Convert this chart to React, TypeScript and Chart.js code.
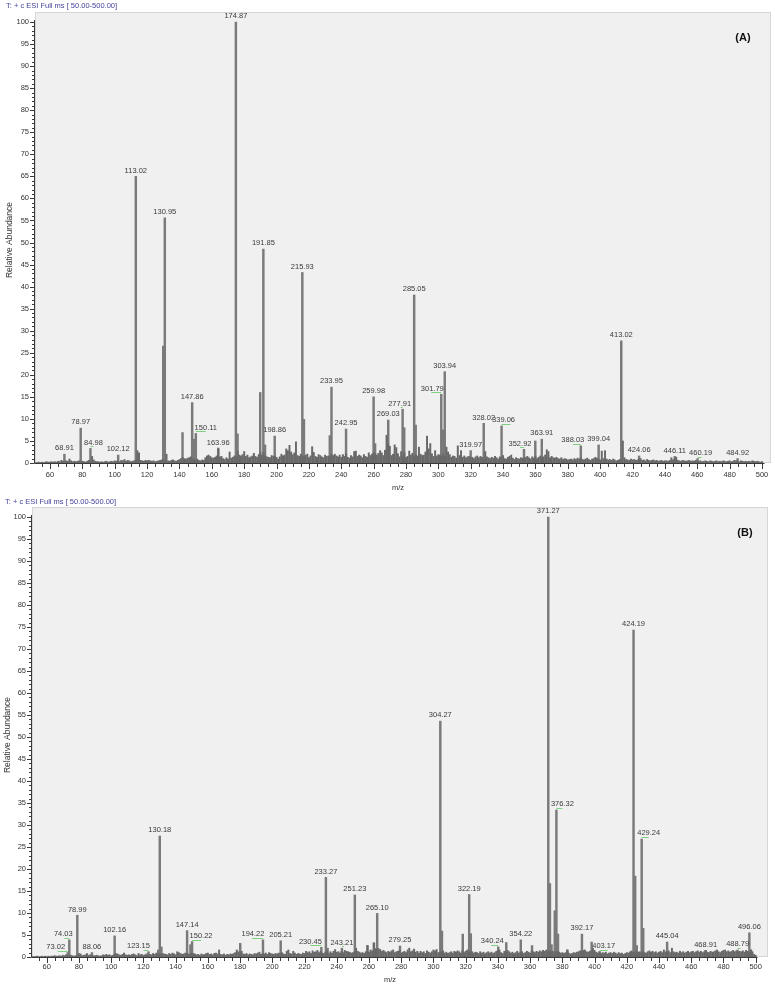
import React, { useEffect, useRef } from "react";
import { Chart, registerables } from "chart.js";

Chart.register(...registerables);

// ---------- DATA ----------
const noiseStartMz = 51; // noise bars at integer m/z 51..500

const aNoise = [
  0.1,0.1,0.2,0.1,0.2,0.1,0.2,0.3,0.2,0.2,
  0.3,0.2,0.3,0.2,0.4,0.3,0.6,0.4,0.3,0.5,
  0.4,0.9,0.5,0.3,0.4,0.3,0.4,0.5,0.3,0.4,
  0.3,0.2,0.4,0.6,0.5,1.5,0.7,0.4,0.3,0.3,
  0.2,0.3,0.2,0.3,0.4,0.2,0.3,0.4,0.3,0.5,
  0.4,0.5,0.3,0.6,0.5,0.8,0.4,0.6,0.5,0.3,
  0.4,0.5,0.6,2.8,2.3,0.6,0.5,0.4,0.6,0.5,
  0.6,0.5,0.4,0.5,0.3,0.4,0.5,0.6,0.7,0.8,
  0.6,2.0,0.5,0.4,0.6,0.7,0.5,0.4,0.6,0.8,
  1.0,1.2,1.0,0.9,1.1,1.2,1.4,1.0,0.8,0.7,
  0.9,0.6,0.5,0.7,0.6,1.2,1.6,1.8,1.5,1.2,
  1.1,1.3,1.6,3.4,1.4,1.5,1.0,0.8,1.2,0.9,
  2.5,1.1,1.3,1.6,1.4,2.7,1.8,1.6,1.9,2.6,
  1.5,1.8,1.2,1.4,1.6,2.2,1.5,1.3,1.9,2.5,
  1.8,2.4,1.6,1.4,1.3,1.2,1.7,1.5,1.6,1.3,
  0.9,1.4,2.0,1.6,1.8,3.2,2.8,4.0,2.5,1.9,
  2.3,4.8,1.7,1.5,2.0,1.6,1.4,1.8,2.0,1.2,
  1.6,3.7,2.4,1.5,1.3,1.9,1.7,1.4,1.2,1.8,
  1.5,1.6,1.4,1.9,1.7,2.0,1.6,1.4,1.8,1.3,
  1.9,1.5,2.1,1.3,1.1,1.7,1.4,2.6,2.7,1.5,
  1.8,1.6,1.2,1.9,1.5,1.3,2.3,1.7,2.0,2.3,
  2.1,1.8,2.2,2.8,2.3,1.7,2.9,6.3,4.2,3.8,
  1.7,2.0,4.1,3.5,2.1,1.4,2.6,1.6,2.4,1.3,
  1.5,2.7,1.8,2.2,1.4,1.9,1.6,3.6,2.0,1.7,
  1.8,2.5,6.1,3.2,4.4,2.1,1.5,2.8,1.6,1.9,
  1.8,1.4,2.1,1.5,3.6,2.5,1.9,1.3,1.6,1.5,
  1.1,3.9,1.7,2.8,1.3,1.6,1.2,1.4,1.5,1.1,
  1.3,1.0,1.4,1.6,1.2,1.5,1.3,1.1,2.6,1.4,
  1.2,1.0,1.3,1.1,1.5,1.2,0.9,1.4,1.3,1.7,
  1.0,0.9,1.3,1.5,1.8,1.1,0.8,1.2,1.0,0.9,
  1.2,1.1,1.0,1.3,1.5,1.2,0.9,1.4,1.1,1.6,
  1.0,1.3,1.6,1.2,1.4,1.8,3.0,2.6,1.2,1.5,
  1.2,1.1,1.3,1.0,0.9,1.2,0.8,1.0,0.9,0.7,
  0.8,0.9,0.7,1.0,0.8,1.1,0.9,1.2,0.8,0.7,
  0.9,1.1,0.8,0.6,0.9,1.0,1.3,1.1,0.8,0.7,
  2.7,1.0,2.8,0.9,0.7,0.8,0.6,0.9,0.7,0.5,
  0.6,0.8,0.7,5.0,1.2,0.8,0.7,0.6,0.9,0.7,
  0.8,0.6,0.7,0.9,1.0,0.6,0.7,0.5,0.8,0.6,
  0.5,0.6,0.7,0.5,0.6,0.4,0.5,0.6,0.4,0.5,
  0.5,0.4,0.6,1.2,0.7,0.9,1.3,0.6,0.5,0.4,
  0.6,0.5,0.4,0.5,0.6,0.4,0.5,0.4,0.6,0.5,
  0.4,0.5,0.3,0.4,0.5,0.4,0.3,0.5,0.4,0.3,
  0.4,0.5,0.3,0.4,0.3,0.5,0.4,0.3,0.4,0.5,
  0.3,0.4,0.6,0.5,0.4,0.3,0.5,0.4,0.3,0.4,
  0.3,0.4,0.3,0.5,0.4,0.3,0.4,0.3,0.2,0.3,
];

const aPeakMz = [68.91, 78.97, 84.98, 102.12, 113.02, 129.97, 130.95, 141.9, 147.86, 148.9, 150.11, 163.96, 174.87, 175.9, 189.9, 191.85, 192.9, 198.86, 215.93, 216.93, 232.9, 233.95, 242.95, 259.98, 260.9, 269.03, 277.91, 278.9, 285.05, 286.0, 301.79, 302.9, 303.94, 319.97, 328.02, 339.06, 352.92, 359.9, 363.91, 388.03, 399.04, 413.02, 424.06, 446.11, 460.19, 484.92];
const aPeakAb = [2.0, 7.9, 3.3, 1.8, 65.0, 26.5, 55.6, 6.9, 13.7, 5.4, 6.7, 3.2, 100, 6.6, 16.0, 48.5, 4.1, 6.1, 43.2, 9.9, 6.2, 17.2, 7.7, 15.0, 4.4, 9.75, 12.2, 8.0, 38.1, 8.6, 15.6, 7.5, 20.7, 2.8, 9.0, 8.4, 3.1, 5.0, 5.4, 3.9, 4.1, 27.7, 1.6, 1.5, 1.0, 1.0];
const aLabelMz = [68.91, 78.97, 84.98, 102.12, 113.02, 130.95, 147.86, 150.11, 163.96, 174.87, 191.85, 198.86, 215.93, 233.95, 242.95, 259.98, 269.03, 277.91, 285.05, 301.79, 303.94, 319.97, 328.02, 339.06, 352.92, 363.91, 388.03, 399.04, 413.02, 424.06, 446.11, 460.19, 484.92];

const bNoise = [
  0.1,0.1,0.1,0.2,0.1,0.1,0.2,0.1,0.2,0.1,
  0.2,0.1,0.2,0.2,0.3,0.2,0.2,0.3,0.2,0.4,
  0.3,0.5,0.4,0.3,0.4,0.3,0.2,0.3,0.4,0.8,
  0.7,0.3,0.4,0.5,0.8,0.4,0.5,0.4,0.3,0.3,
  0.4,0.3,0.2,0.3,0.5,0.4,0.6,0.4,0.5,0.3,
  0.4,0.6,0.8,0.7,0.5,0.4,0.6,0.9,0.5,0.4,
  0.5,0.4,0.6,0.7,0.5,0.3,0.8,0.5,0.6,0.4,
  0.5,0.7,0.4,0.6,0.5,0.8,0.6,0.9,0.7,0.8,
  0.6,0.8,0.7,0.6,0.5,0.8,0.6,0.9,0.7,0.5,
  1.2,1.0,0.8,0.6,0.7,0.9,0.8,0.7,0.6,0.9,
  0.8,0.7,0.5,0.6,0.4,0.7,0.5,0.6,0.8,0.9,
  0.6,0.7,0.5,0.8,0.9,0.7,1.6,0.6,0.5,0.7,
  0.4,0.6,0.5,0.7,0.6,0.8,1.0,1.6,1.2,0.9,
  1.3,0.7,0.6,0.8,0.5,0.7,0.6,0.5,0.8,0.7,
  0.9,1.1,0.6,0.8,0.7,0.9,0.6,1.0,0.8,0.7,
  0.6,0.8,0.7,0.9,0.8,1.0,0.7,0.6,1.3,1.6,
  0.8,0.7,1.3,0.9,0.6,0.8,0.7,0.6,0.9,0.8,
  1.3,1.0,1.2,0.8,1.4,1.1,1.2,1.5,1.0,1.3,
  0.9,0.8,1.1,1.4,0.8,1.2,0.9,1.3,1.7,1.1,
  1.2,0.9,1.3,1.0,1.5,1.3,1.2,1.1,0.9,1.0,
  1.2,2.0,1.3,1.1,0.9,1.0,0.8,1.2,2.6,1.1,
  1.6,1.4,3.2,1.9,1.8,1.9,1.7,1.3,1.5,1.2,
  1.0,1.3,1.1,1.4,1.6,1.0,1.2,1.3,1.5,0.9,
  1.1,1.3,1.0,1.6,2.0,1.2,1.4,1.8,1.1,1.3,
  0.9,1.3,1.0,1.2,0.8,1.4,1.1,0.9,1.2,1.6,
  1.4,1.7,1.0,1.1,1.2,1.4,0.9,1.1,0.8,1.0,
  1.2,0.9,1.3,1.1,1.4,1.2,0.9,1.5,1.0,1.3,
  1.6,1.1,1.3,1.2,0.9,1.1,1.0,0.8,1.2,0.9,
  1.1,0.8,1.0,1.2,0.9,1.1,0.8,1.0,1.3,1.5,
  1.6,1.0,0.8,1.3,1.1,1.5,1.2,0.9,1.1,0.8,
  1.0,1.3,0.9,1.1,1.2,0.8,1.0,1.3,1.1,0.9,
  1.4,1.2,1.0,1.3,1.1,1.4,1.2,1.5,1.3,1.6,
  1.2,1.4,1.1,1.3,1.2,1.0,1.3,1.1,0.9,1.0,
  0.8,1.0,1.6,0.9,0.7,0.8,1.0,0.9,1.1,1.2,
  1.4,1.3,1.5,1.6,1.2,1.1,1.3,1.4,2.0,1.5,
  1.1,0.9,1.2,0.8,1.0,0.9,1.1,0.7,0.9,1.0,
  0.8,1.1,0.9,0.7,1.0,0.8,0.9,0.6,0.8,1.0,
  0.9,1.2,1.4,1.1,1.0,1.3,1.1,1.2,1.0,1.3,
  1.0,0.9,1.2,1.4,1.1,1.3,1.0,1.2,0.9,1.1,
  1.3,1.0,1.6,1.2,1.1,1.4,1.0,2.0,1.2,1.0,
  1.1,0.9,1.3,1.0,1.2,0.9,1.1,1.3,1.0,1.2,
  1.3,1.0,1.2,1.4,1.1,1.3,1.0,1.2,1.5,1.1,
  1.0,1.3,1.1,1.2,1.4,1.6,1.2,1.0,1.3,1.5,
  1.6,1.2,1.4,1.1,1.3,1.5,1.2,1.4,1.1,1.3,
  1.2,1.4,1.1,1.5,1.3,1.1,1.6,1.2,0.6,0.4,
];

const bPeakMz = [73.02, 74.03, 78.99, 88.06, 102.16, 123.15, 129.2, 130.18, 131.2, 147.14, 149.2, 150.22, 180.1, 194.22, 205.21, 230.45, 233.27, 234.3, 243.21, 251.23, 259.1, 263.1, 265.10, 279.25, 304.27, 305.3, 318.2, 322.19, 323.2, 340.24, 345.2, 354.22, 361.2, 371.27, 372.3, 373.3, 375.3, 376.32, 377.3, 383.2, 392.17, 398.2, 403.17, 424.19, 425.2, 426.2, 429.24, 430.2, 445.04, 468.91, 488.79, 496.06, 497.1];
const bPeakAb = [1.0, 3.9, 9.5, 1.0, 4.8, 1.2, 1.6, 27.5, 2.3, 6.0, 2.8, 3.5, 3.1, 3.9, 3.7, 2.2, 18.1, 2.0, 2.0, 14.1, 2.6, 3.2, 9.9, 2.5, 53.6, 5.9, 5.2, 14.2, 5.3, 2.3, 3.3, 3.9, 2.6, 100, 16.7, 2.8, 10.5, 33.4, 5.2, 1.6, 5.2, 3.4, 1.2, 74.3, 18.4, 2.6, 26.8, 6.5, 3.4, 1.5, 1.6, 5.5, 1.6];
const bLabelMz = [73.02, 74.03, 78.99, 88.06, 102.16, 123.15, 130.18, 147.14, 150.22, 194.22, 205.21, 230.45, 233.27, 243.21, 251.23, 265.10, 279.25, 304.27, 322.19, 340.24, 354.22, 371.27, 376.32, 392.17, 403.17, 424.19, 429.24, 445.04, 468.91, 488.79, 496.06];

const xTickLabels = [60, 80, 100, 120, 140, 160, 180, 200, 220, 240, 260, 280, 300, 320, 340, 360, 380, 400, 420, 440, 460, 480, 500];
const yTickLabels = [0, 5, 10, 15, 20, 25, 30, 35, 40, 45, 50, 55, 60, 65, 70, 75, 80, 85, 90, 95, 100];

const scanTitle = "T: + c ESI Full ms [ 50.00-500.00]";
const xTitle = "m/z";
const yTitle = "Relative Abundance";

// ---------- STYLE / LAYOUT ----------
const FONT = '"Liberation Sans", Arial, Helvetica, sans-serif';

type PanelCfg = {
  letter: string;
  noise: number[];
  peakMz: number[];
  peakAb: number[];
  labelMz: number[];
  top: number;
  height: number;
  padding: { left: number; right: number; top: number; bottom: number };
  xMin: number;
  xMax: number;
  yMax: number;
  titleX: number;
  titleY: number;
  letterX: number;
  letterY: number;
  xLabelDy: number;
  mzX: number;
  mzDy: number;
  yTitleX: number;
  yTitleY: number;
  nudge: Record<string, number>;
  green: Record<string, number>;
};

const panels: PanelCfg[] = [
  {
    letter: "(A)",
    noise: aNoise,
    peakMz: aPeakMz,
    peakAb: aPeakAb,
    labelMz: aLabelMz,
    top: 0,
    height: 493,
    padding: { left: 35, right: 4, top: 12, bottom: 30 },
    xMin: 50.73,
    xMax: 505.56,
    yMax: 102.27,
    titleX: 6,
    titleY: 6,
    letterX: 743,
    letterY: 38,
    xLabelDy: 12,
    mzX: 398,
    mzDy: 25,
    yTitleX: 10,
    yTitleY: 240,
    nudge: { "150.11": 10, "301.79": -9, "388.03": -8, "352.92": -4, "277.91": -3, "84.98": 3, "460.19": 3, "339.06": 2 },
    green: { "150.11": 10, "301.79": -10, "339.06": 9, "352.92": -4, "388.03": -8, "277.91": -2, "84.98": 3, "460.19": 4 },
  },
  {
    letter: "(B)",
    noise: bNoise,
    peakMz: bPeakMz,
    peakAb: bPeakAb,
    labelMz: bLabelMz,
    top: 493,
    height: 492,
    padding: { left: 32, right: 7, top: 14, bottom: 28 },
    xMin: 50.88,
    xMax: 507.63,
    yMax: 102.27,
    titleX: 5,
    titleY: 9,
    letterX: 745,
    letterY: 40,
    xLabelDy: 10,
    mzX: 390,
    mzDy: 23,
    yTitleX: 8,
    yTitleY: 242,
    nudge: { "73.02": -12, "74.03": -6, "123.15": -10, "150.22": 9, "194.22": -10, "230.45": -11, "340.24": -6, "403.17": 4, "376.32": 6, "429.24": 7 },
    green: { "73.02": -10, "74.03": -5, "123.15": -5, "150.22": 9, "194.22": -11, "230.45": -11, "340.24": -7, "403.17": 8, "376.32": 6, "429.24": 7, "488.79": 3, "243.21": 2 },
  },
];

function makePlugin(cfg: PanelCfg) {
  return {
    id: "spectrumDecor",
    beforeDatasetsDraw(chart: any) {
      const { ctx, chartArea } = chart;
      const { left, right, top, bottom } = chartArea;
      ctx.save();
      ctx.fillStyle = "#f0f0f0";
      ctx.fillRect(left, top, right - left, bottom - top);
      ctx.strokeStyle = "#d6d6d6";
      ctx.lineWidth = 1;
      ctx.strokeRect(left + 0.5, top + 0.5, right - left - 1, bottom - top - 1);
      ctx.restore();
    },
    afterDatasetsDraw(chart: any) {
      const { ctx, chartArea } = chart;
      const xs = chart.scales.x;
      const ys = chart.scales.y;
      const left = chartArea.left;
      const y0 = Math.round(ys.getPixelForValue(0));
      ctx.save();

      // axes lines
      ctx.strokeStyle = "#3a3a3a";
      ctx.lineWidth = 1;
      ctx.beginPath();
      ctx.moveTo(left - 0.5, y0 + 0.5);
      ctx.lineTo(Math.round(xs.getPixelForValue(501)) + 0.5, y0 + 0.5);
      ctx.moveTo(left - 0.5, y0 + 0.5);
      ctx.lineTo(left - 0.5, Math.round(ys.getPixelForValue(100.5)));
      ctx.stroke();

      // x ticks (every 5, longer at labelled ones)
      ctx.beginPath();
      for (let v = 55; v <= 500; v += 5) {
        const px = Math.round(xs.getPixelForValue(v)) + 0.5;
        const len = xTickLabels.includes(v) ? 5 : 3;
        ctx.moveTo(px, y0 + 1);
        ctx.lineTo(px, y0 + 1 + len);
      }
      // y ticks (every 1, longer at labelled ones)
      for (let v = 0; v <= 100; v += 1) {
        const py = Math.round(ys.getPixelForValue(v)) + 0.5;
        const len = yTickLabels.includes(v) ? 4 : 2;
        ctx.moveTo(left - 1, py);
        ctx.lineTo(left - 1 - len, py);
      }
      ctx.stroke();

      // tick labels
      ctx.fillStyle = "#333";
      ctx.font = `7.5px ${FONT}`;
      ctx.textAlign = "center";
      ctx.textBaseline = "middle";
      xTickLabels.forEach((v) => {
        ctx.fillText(String(v), xs.getPixelForValue(v), y0 + cfg.xLabelDy);
      });
      ctx.textAlign = "right";
      yTickLabels.forEach((v) => {
        ctx.fillText(String(v), left - 6, ys.getPixelForValue(v));
      });

      // axis titles
      ctx.textAlign = "center";
      ctx.fillText(xTitle, cfg.mzX, y0 + cfg.mzDy);
      ctx.save();
      ctx.font = `8.5px ${FONT}`;
      ctx.translate(cfg.yTitleX, cfg.yTitleY);
      ctx.rotate(-Math.PI / 2);
      ctx.fillText(yTitle, 0, 0);
      ctx.restore();

      // peak labels
      ctx.font = `7.5px ${FONT}`;
      ctx.textBaseline = "bottom";
      ctx.textAlign = "center";
      cfg.labelMz.forEach((mz) => {
        const i = cfg.peakMz.indexOf(mz);
        if (i < 0) return;
        const text = mz.toFixed(2);
        const px = xs.getPixelForValue(mz);
        const py = ys.getPixelForValue(cfg.peakAb[i]);
        const dx = cfg.nudge[text] || 0;
        const g = cfg.green[text];
        if (g) {
          ctx.strokeStyle = "#7fd07f";
          ctx.lineWidth = 1;
          ctx.beginPath();
          ctx.moveTo(px, Math.round(py - 2) + 0.5);
          ctx.lineTo(px + g, Math.round(py - 2) + 0.5);
          ctx.stroke();
        }
        ctx.fillStyle = "#3a3a3a";
        ctx.fillText(text, px + dx, py - 2);
      });

      // scan title
      ctx.fillStyle = "#44449a";
      ctx.textAlign = "left";
      ctx.textBaseline = "middle";
      ctx.font = `7.5px ${FONT}`;
      ctx.fillText(scanTitle, cfg.titleX, cfg.titleY);

      // panel letter
      ctx.fillStyle = "#111";
      ctx.font = `bold 11px ${FONT}`;
      ctx.textAlign = "center";
      ctx.fillText(cfg.letter, cfg.letterX, cfg.letterY);

      ctx.restore();
    },
  };
}

function Spectrum({ cfg }: { cfg: PanelCfg }) {
  const ref = useRef<HTMLCanvasElement | null>(null);
  useEffect(() => {
    if (!ref.current) return;
    const noisePts = cfg.noise.map((v, i) => ({ x: noiseStartMz + i, y: v }));
    const peakPts = cfg.peakMz.map((m, i) => ({ x: m, y: cfg.peakAb[i] }));
    const chart = new Chart(ref.current, {
      type: "bar",
      data: {
        datasets: [
          {
            data: noisePts as any,
            backgroundColor: "#686868",
            barThickness: 1.3,
            grouped: false,
            borderWidth: 0,
          } as any,
          {
            data: peakPts as any,
            backgroundColor: "#7a7a7a",
            barThickness: 1.8,
            grouped: false,
            borderWidth: 0,
          } as any,
        ],
      },
      options: {
        responsive: false,
        animation: false,
        devicePixelRatio: 1,
        layout: { padding: cfg.padding },
        plugins: { legend: { display: false }, tooltip: { enabled: false } },
        events: [],
        scales: {
          x: { type: "linear", min: cfg.xMin, max: cfg.xMax, display: false, offset: false },
          y: { type: "linear", min: 0, max: cfg.yMax, display: false },
        },
      } as any,
      plugins: [makePlugin(cfg) as any],
    });
    return () => chart.destroy();
  }, [cfg]);
  return (
    <canvas
      ref={ref}
      width={775}
      height={cfg.height}
      style={{ position: "absolute", left: 0, top: cfg.top, width: 775, height: cfg.height, display: "block" }}
    />
  );
}

export default function App() {
  return (
    <div style={{ position: "fixed", left: 0, top: 0, width: 775, height: 985, background: "#fff", overflow: "hidden" }}>
      {panels.map((p) => (
        <Spectrum key={p.letter} cfg={p} />
      ))}
    </div>
  );
}
